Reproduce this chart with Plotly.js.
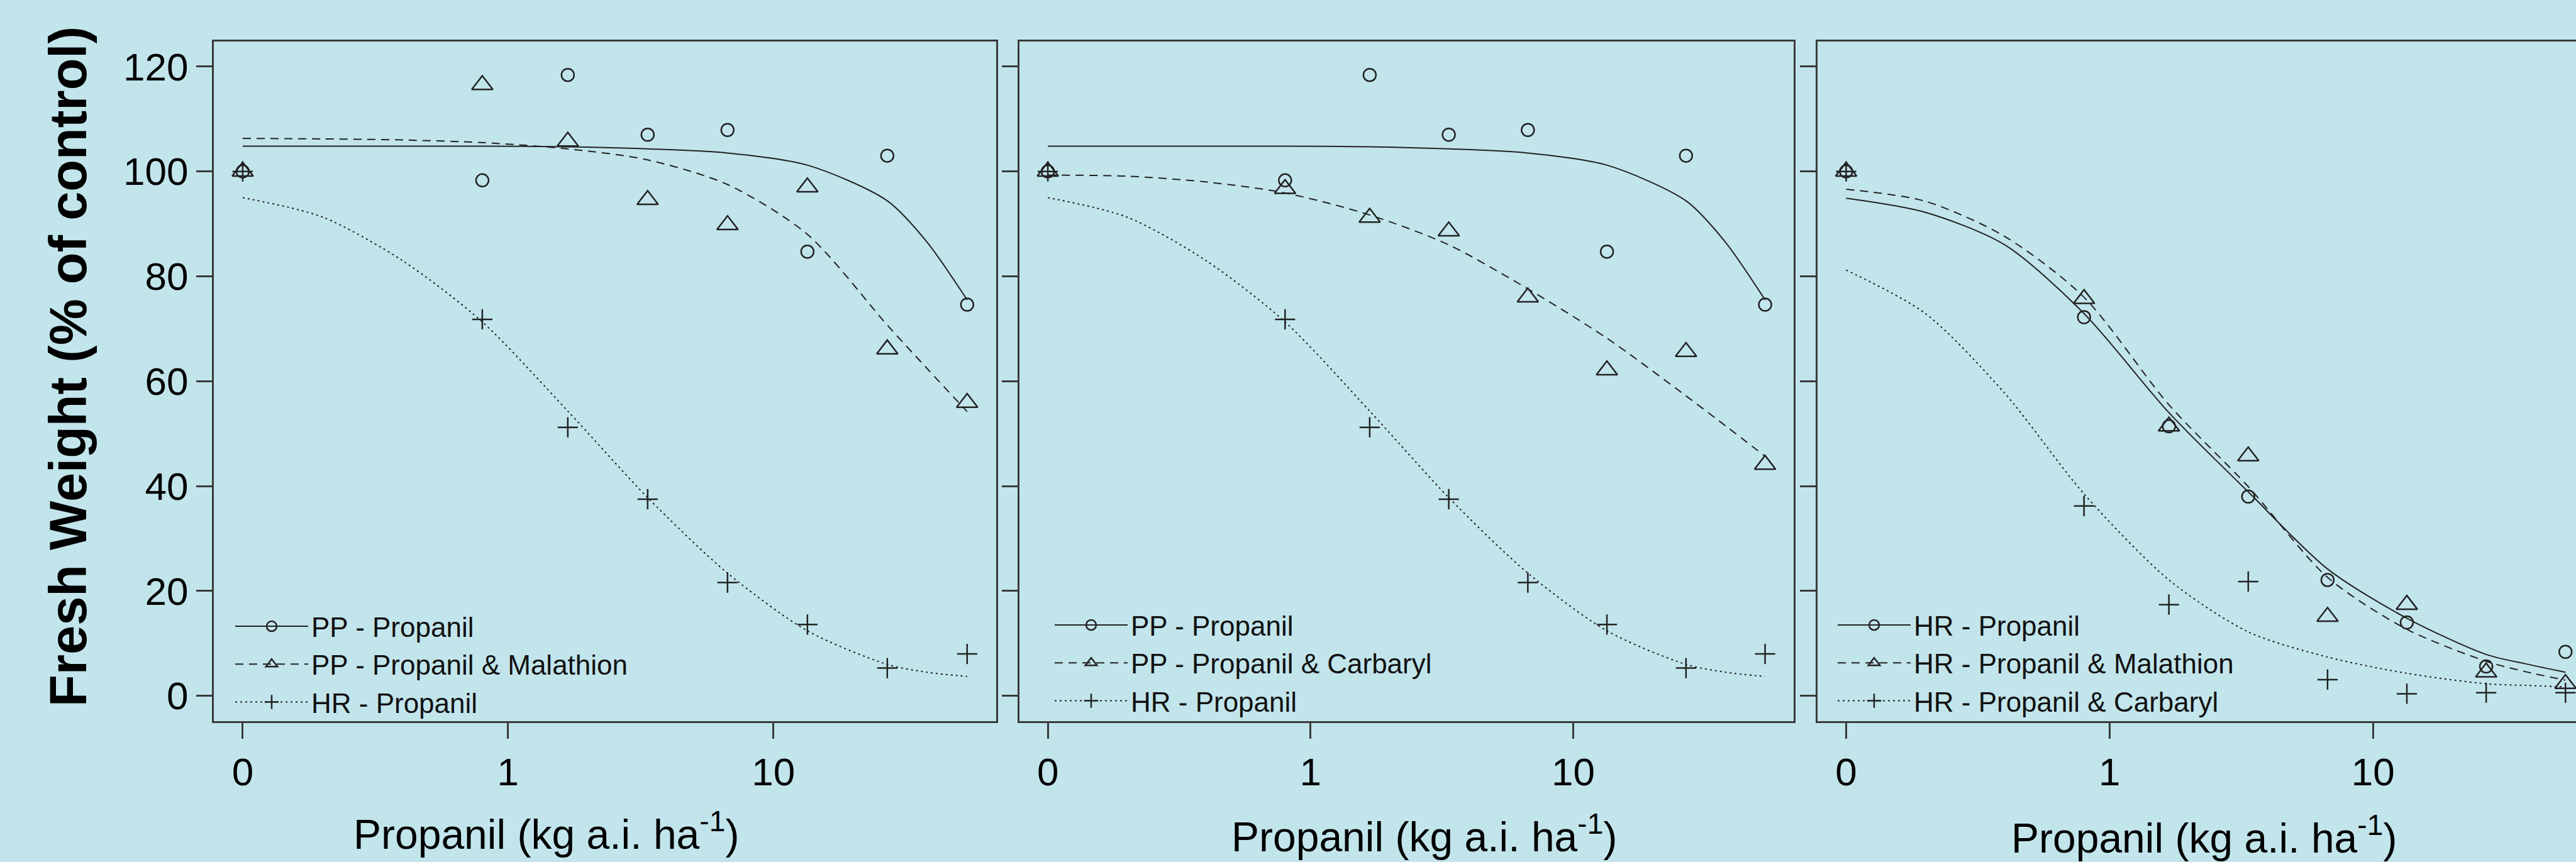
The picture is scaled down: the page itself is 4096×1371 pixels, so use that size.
<!DOCTYPE html>
<html>
<head>
<meta charset="utf-8">
<script src="https://cdn.plot.ly/plotly-3.0.1.min.js"></script>
<style>
  html, body { margin: 0; padding: 0; overflow: hidden; background: #c2e5ec; }
  #chart { width: 4140px; height: 1371px; }
</style>
</head>
<body>
<div id="chart"></div>
<script>
// ---------------- data ----------------
const doses = [0, 0.8, 1.68, 3.36, 6.72, 13.44, 26.88, 53.76];
const fitDoses = [0.1, 0.2, 0.4, 0.8, 1.68, 3.36, 6.72, 13.44, 26.88, 38, 53.76];
const xTickDoses = [0, 1, 10];
const xTickLabels = ['0', '1', '10'];
const yLimits = [0, 120];
const yTickStep = 20;

// observed fresh weight (% of control)
const ppPropanil          = [100, 98.3, 118.4, 107.0, 107.9, 84.7, 103.0, 74.6];
const ppPropanilMalathion = [100, 116.5, 105.7, 94.6, 89.8, 97.0, 66.1, 55.9];
const hrPropanil          = [100, 71.8, 51.2, 37.5, 21.6, 13.6, 5.3, 8.0];
const ppPropanilCarbaryl  = [100, 96.7, 91.2, 88.6, 76.0, 62.1, 65.6, 44.1];
const hrPropanilC         = [100, 72.2, 51.4, 38.0, 22.1, 14.0, 5.6, 8.4];
const hrPropanilMalathion = [100, 75.7, 51.4, 45.7, 15.1, 17.4, 4.5, 2.3];
const hrPropanilCarbaryl  = [100, 36.2, 17.4, 21.8, 3.1, 0.4, 0.6, 0.6];

// fitted dose-response curves, read at fitDoses
const ppPropanilFit          = [104.8, 104.8, 104.8, 104.8, 104.7, 104.3, 103.5, 101.2, 94.4, 86.5, 75.5];
const ppPropanilMalathionFit = [106.3, 106.2, 106.0, 105.5, 104.3, 102.2, 97.5, 88.0, 70.7, 62.4, 54.2];
const hrPropanilFit          = [95.0, 91.3, 83.0, 71.3, 54.3, 37.8, 23.4, 12.4, 6.0, 4.5, 3.7];
const ppPropanilCarbarylFit  = [99.3, 99.1, 98.0, 95.9, 91.7, 86.0, 77.6, 68.2, 57.2, 51.5, 45.7];
const hrPropanilFitC         = [94.9, 92.2, 86.0, 72.9, 54.0, 38.9, 24.2, 14.8, 7.9, 6.1, 4.5];
const hrPropanilMalathionFit = [96.6, 94.3, 87.6, 76.0, 55.5, 39.9, 22.6, 12.7, 6.6, 4.6, 3.0];
const hrPropanilCarbarylFit  = [81.2, 72.9, 57.7, 38.5, 22.1, 12.2, 7.4, 4.3, 2.3, 2.0, 1.7];

const xTitle = 'Propanil (kg a.i. ha<sup>-1</sup>)';
const yTitle = 'Fresh Weight (% of control)';

// ---------------- styling ----------------
const W = 4140, H = 1371;
const FONT = 'Liberation Sans, Arial, Helvetica, sans-serif';
const ink = '#222222';
const frame = '#3a3a3a';
const clear = 'rgba(0,0,0,0)';
const zeroDosePosition = 0.1;
const toAxis = d => (d === 0 ? zeroDosePosition : d);

const STY = {
  circle:   { symbol: 'circle-open', size: 20, lw: 2.5 },
  triangle: { symbol: 'triangle-up-open', size: 29, lw: 2.5 },
  plus:     { symbol: 'cross-thin-open', size: 23, lw: 2.5 }
};
const DASH = { solid: 'solid', dashed: '13px,9px', dotted: '3px,5px' };

function series(name, obs, fit, mk, dash, idx, legendId) {
  const x = [], y = [], c = [];
  doses.forEach((d, i) => { x.push(toAxis(d), null); y.push(obs[i], null); c.push(ink, clear); });
  fitDoses.forEach((d, i) => { x.push(d); y.push(fit[i]); c.push(clear); });
  const s = idx === 1 ? '' : String(idx);
  return {
    type: 'scatter', mode: 'lines+markers', name: name, x: x, y: y,
    xaxis: 'x' + s, yaxis: 'y' + s, legend: legendId,
    connectgaps: false, hoverinfo: 'skip',
    line: { color: ink, width: 2, dash: DASH[dash], shape: 'spline', smoothing: 0.8 },
    marker: { symbol: mk.symbol, size: mk.size, color: c, line: { width: mk.lw } }
  };
}

const traces = [
  series('PP - Propanil', ppPropanil, ppPropanilFit, STY.circle, 'solid', 1, 'legend'),
  series('PP - Propanil & Malathion', ppPropanilMalathion, ppPropanilMalathionFit, STY.triangle, 'dashed', 1, 'legend'),
  series('HR - Propanil', hrPropanil, hrPropanilFit, STY.plus, 'dotted', 1, 'legend'),
  series('PP - Propanil', ppPropanil, ppPropanilFit, STY.circle, 'solid', 2, 'legend2'),
  series('PP - Propanil & Carbaryl', ppPropanilCarbaryl, ppPropanilCarbarylFit, STY.triangle, 'dashed', 2, 'legend2'),
  series('HR - Propanil', hrPropanil, hrPropanilFit, STY.plus, 'dotted', 2, 'legend2'),
  series('HR - Propanil', hrPropanilC, hrPropanilFitC, STY.circle, 'solid', 3, 'legend3'),
  series('HR - Propanil & Malathion', hrPropanilMalathion, hrPropanilMalathionFit, STY.triangle, 'dashed', 3, 'legend3'),
  series('HR - Propanil & Carbaryl', hrPropanilCarbaryl, hrPropanilCarbarylFit, STY.plus, 'dotted', 3, 'legend3')
];

// axis ranges like R defaults (4% extension)
const lx0 = Math.log10(zeroDosePosition), lx1 = Math.log10(Math.max(...doses));
const xRange = [lx0 - 0.04 * (lx1 - lx0), lx1 + 0.04 * (lx1 - lx0)];
const yRange = [yLimits[0] - 0.04 * (yLimits[1] - yLimits[0]), yLimits[1] + 0.04 * (yLimits[1] - yLimits[0])];

const px = v => v / W;
const py = v => 1 - v / H;
const yDomain = [py(1146.8), py(65.8)];
const xDomains = [[px(339.8), px(1583.9)], [px(1620.5), px(2852.2)], [px(2889.7), px(4125)]];

const axisBase = {
  showline: true, linecolor: frame, linewidth: 3, mirror: true,
  ticks: 'outside', ticklen: 25, tickwidth: 3, tickcolor: frame,
  showgrid: false, zeroline: false,
  tickfont: { family: FONT, size: 62, color: '#000' }
};

const layout = {
  width: W, height: H,
  margin: { l: 0, r: 0, t: 0, b: 0 },
  paper_bgcolor: '#c2e5ec', plot_bgcolor: clear,
  font: { family: FONT, color: '#000' },
  showlegend: true,
  annotations: [
    { text: yTitle, xref: 'paper', yref: 'paper', x: px(108), y: py(583), xanchor: 'center', yanchor: 'middle',
      textangle: -90, showarrow: false, font: { family: FONT, size: 83, weight: 'bold', color: '#000' } },
    { text: xTitle, xref: 'paper', yref: 'paper', x: px(868), y: py(1322), xanchor: 'center', yanchor: 'middle',
      showarrow: false, font: { family: FONT, size: 66, color: '#000' } },
    { text: xTitle, xref: 'paper', yref: 'paper', x: px(2264), y: py(1326), xanchor: 'center', yanchor: 'middle',
      showarrow: false, font: { family: FONT, size: 66, color: '#000' } },
    { text: xTitle, xref: 'paper', yref: 'paper', x: px(3504), y: py(1328), xanchor: 'center', yanchor: 'middle',
      showarrow: false, font: { family: FONT, size: 66, color: '#000' } }
  ]
};

[1, 2, 3].forEach(i => {
  const s = i === 1 ? '' : String(i);
  layout['xaxis' + s] = Object.assign({}, axisBase, {
    type: 'log', range: xRange, domain: xDomains[i - 1], anchor: 'y' + s,
    tickmode: 'array', tickvals: xTickDoses.map(toAxis), ticktext: xTickLabels
  });
  layout['yaxis' + s] = Object.assign({}, axisBase, {
    range: yRange, domain: yDomain, anchor: 'x' + s,
    tick0: 0, dtick: yTickStep, showticklabels: i === 1
  });
});

const legendBase = {
  xanchor: 'left', yanchor: 'top', bgcolor: clear, borderwidth: 0,
  font: { family: FONT, size: 44, color: '#111' }, itemwidth: 116, tracegroupgap: 0
};
layout.legend  = Object.assign({}, legendBase, { x: px(369),  y: py(961) });
layout.legend2 = Object.assign({}, legendBase, { x: px(1672), y: py(959) });
layout.legend3 = Object.assign({}, legendBase, { x: px(2917), y: py(959) });

Plotly.newPlot('chart', traces, layout, { staticPlot: true, displayModeBar: false });
</script>
</body>
</html>
